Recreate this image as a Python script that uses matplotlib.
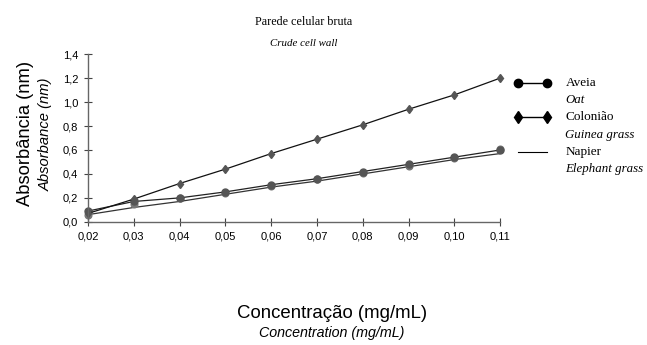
import numpy as np
import matplotlib
matplotlib.use('Agg')
import matplotlib.pyplot as plt
from matplotlib.lines import Line2D

# concentration (mg/mL) and absorbance values
conc = [0.02, 0.03, 0.04, 0.05, 0.06, 0.07, 0.08, 0.09, 0.10, 0.11]
aveia = [0.09, 0.17, 0.20, 0.25, 0.31, 0.36, 0.42, 0.48, 0.54, 0.60]
coloniao = [0.07, 0.19, 0.32, 0.44, 0.57, 0.69, 0.81, 0.94, 1.06, 1.20]
napier = [0.06, 0.12, 0.17, 0.23, 0.29, 0.34, 0.40, 0.46, 0.52, 0.57]
napier_pts = [0.06, 0.15, 0.20, 0.24, 0.30, 0.36, 0.41, 0.47, 0.53, 0.61]

xticks = [0.02, 0.03, 0.04, 0.05, 0.06, 0.07, 0.08, 0.09, 0.10, 0.11]
xticklabels = ['0,02', '0,03', '0,04', '0,05', '0,06', '0,07', '0,08', '0,09', '0,10', '0,11']
yticks = [0.0, 0.2, 0.4, 0.6, 0.8, 1.0, 1.2, 1.4]
yticklabels = ['0,0', '0,2', '0,4', '0,6', '0,8', '1,0', '1,2', '1,4']

plt.rcParams['font.family'] = ['Liberation Sans', 'DejaVu Sans']
serif = ['Liberation Serif', 'DejaVu Serif']

fig = plt.figure(figsize=(6.47, 3.45), dpi=100)
ax = fig.add_axes([0.136, 0.357, 0.637, 0.486])

ax.plot(conc, napier, color='#333333', lw=0.9)
ax.plot(conc, napier_pts, ls='none', marker='o', ms=4.8, color='#777777')
ax.plot(conc, aveia, color='#222222', lw=0.9, marker='o', ms=5,
        mfc='#555555', mec='#555555')
ax.plot(conc, coloniao, color='#111111', lw=0.9, marker='d', ms=4.5,
        mfc='#555555', mec='#555555')

ax.set_xlim(0.02, 0.11)
ax.set_ylim(0, 1.4)
ax.set_xticks(xticks)
ax.set_xticklabels(xticklabels, fontsize=8)
ax.set_yticks(yticks)
ax.set_yticklabels(yticklabels, fontsize=8)
ax.tick_params(direction='inout', length=6, width=0.8, color='#444444', pad=4)
for s in ['top', 'right']:
    ax.spines[s].set_visible(False)
for s in ['left', 'bottom']:
    ax.spines[s].set_color('#666666')
    ax.spines[s].set_linewidth(1.0)
for ln in ax.lines:
    ln.set_clip_on(False)

# titles
fig.text(0.47, 0.935, 'Parede celular bruta', ha='center', va='center',
         fontsize=8.7, family=serif)
fig.text(0.47, 0.875, 'Crude cell wall', ha='center', va='center',
         fontsize=7.8, family=serif, style='italic')

# axis labels
fig.text(0.039, 0.612, 'Absorbância (nm)', rotation=90, ha='center', va='center', fontsize=13.2)
fig.text(0.071, 0.612, 'Absorbance (nm)', rotation=90, ha='center', va='center',
         fontsize=10.6, style='italic')
fig.text(0.513, 0.09, 'Concentração (mg/mL)', ha='center', va='center', fontsize=13.4)
fig.text(0.513, 0.035, 'Concentration (mg/mL)', ha='center', va='center',
         fontsize=10.3, style='italic')

# legend drawn by hand
leg = [('Aveia', 'Oat', 'o'), ('Colonião', 'Guinea grass', 'd'), ('Napier', 'Elephant grass', None)]
ytop = 0.76
for i, (pt, en, mk) in enumerate(leg):
    y = ytop - i * 0.1
    if mk:
        fig.add_artist(Line2D([0.800, 0.846], [y, y], color='black', lw=1.0,
                              marker=mk, ms=6, mfc='black', mec='black',
                              transform=fig.transFigure))
    else:
        fig.add_artist(Line2D([0.800, 0.846], [y, y], color='black', lw=0.8,
                              transform=fig.transFigure))
    fig.text(0.874, y, pt, ha='left', va='center', fontsize=9.5, family=serif)
    fig.text(0.874, y - 0.05, en, ha='left', va='center', fontsize=9.3,
             family=serif, style='italic')

fig.savefig('out.png', dpi=100)
